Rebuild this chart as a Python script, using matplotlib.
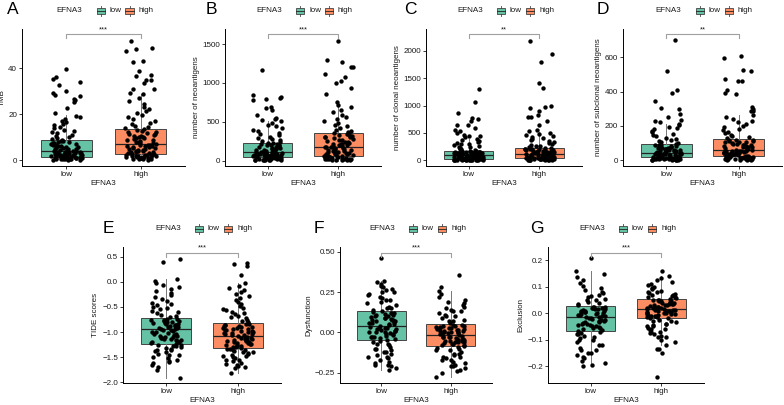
import numpy as np
import matplotlib.pyplot as plt
from matplotlib.patches import Rectangle
from matplotlib.lines import Line2D

plt.rcParams['font.family'] = ['Liberation Sans', 'DejaVu Sans']

W, H = 784, 405
groups = ['low', 'high']
colors = ['#66C2A5', '#FC8D62']
letters = ['A', 'B', 'C', 'D', 'E', 'F', 'G']
ylabels = ['TMB', 'number of neoantigens', 'number of clonal neoantigens',
           'number of subclonal neoantigens', 'TIDE scores', 'Dysfunction', 'Exclusion']
stars = ['***', '***', '**', '**', '***', '***', '***']

# ---- jittered points ----
tmb_low = [0.1, 0.2, 0.2, 0.3, 0.4, 0.4, 0.5, 0.6, 0.6, 0.7, 0.8, 0.8, 0.9, 1.0, 1.0, 1.1, 1.2, 1.2, 1.3, 1.3, 0.3, 0.5, 0.7, 0.9,
           1.5, 1.6, 1.8, 1.9, 2.0, 2.1, 2.3, 2.4, 2.5, 2.6, 2.7, 2.9, 3.0, 3.1, 3.2, 3.4, 3.5, 3.6, 3.7, 3.8, 3.9, 2.2, 1.7, 2.8,
           4.1, 4.4, 4.6, 4.8, 5.0, 5.2, 5.5, 5.6, 5.9, 6.0, 6.2, 6.5, 6.6, 6.9, 7.1, 7.3, 7.6, 7.8, 8.0, 8.2, 8.4, 8.6, 4.3, 5.3,
           9.0, 9.4, 9.9, 10.5, 11.0, 11.6, 12.1, 12.6, 13.1, 13.8, 14.3, 15.1, 15.7, 16.4, 17.1, 17.8, 18.6, 19.3,
           20.6, 22.5, 25.1, 25.9, 26.5, 27.7, 28.4, 29.1, 30.0, 32.6, 34.1, 35.2, 36.0, 39.8]
tmb_high = [0.2, 0.3, 0.4, 0.5, 0.6, 0.7, 0.8, 0.9, 1.0, 1.1, 1.2, 1.3, 1.4, 1.5, 1.6, 1.7, 1.8, 1.9, 2.0, 2.1, 2.2, 2.3, 2.4, 2.5,
            2.7, 2.9, 3.1, 3.3, 3.5, 3.7, 3.9, 4.1, 4.3, 4.5, 4.7, 4.9, 5.1, 5.3, 5.5, 5.7, 5.9, 6.1, 6.3, 6.4, 6.6, 6.7, 3.0, 4.0,
            7.0, 7.3, 7.6, 7.9, 8.2, 8.5, 8.8, 9.1, 9.4, 9.7, 10.0, 10.3, 10.6, 10.9, 11.2, 11.5, 11.8, 12.1, 12.4, 12.7, 13.0, 13.3, 8.0, 9.9,
            13.8, 14.3, 14.9, 15.5, 16.2, 17.0, 17.8, 18.5, 19.4, 20.3, 21.2, 22.1, 23.0, 24.2, 25.5, 26.8, 28.6,
            29.0, 30.8, 31.1, 33.3, 34.8, 35.0, 36.4, 37.0, 38.7, 42.8, 43.2, 47.4, 48.3, 48.8, 51.9]
neo_low = [3, 5, 8, 10, 12, 14, 16, 18, 20, 22, 24, 26, 28, 30, 32, 34, 36, 38, 40, 42, 44, 46, 6, 15,
           50, 53, 56, 60, 63, 66, 70, 73, 76, 80, 83, 86, 90, 93, 96, 100, 103, 106, 58, 68, 78, 88, 98, 52,
           112, 118, 124, 130, 137, 144, 151, 158, 165, 172, 180, 188, 196, 204, 212, 220, 226, 230, 115, 140, 170, 200, 120, 150,
           240, 252, 265, 280, 295, 310, 325, 340, 360, 380, 400, 420, 440, 460, 480, 505,
           520, 532, 545, 590, 650, 680, 690, 780, 790, 800, 820, 840, 1165]
neo_high = [4, 7, 10, 13, 16, 19, 22, 25, 28, 31, 34, 37, 40, 43, 46, 49, 52, 55, 58, 61, 63, 8, 20, 45,
            68, 74, 80, 86, 92, 98, 104, 110, 116, 122, 128, 134, 140, 146, 152, 158, 164, 170, 175, 178, 90, 120, 150, 100,
            185, 193, 201, 210, 220, 230, 240, 250, 260, 270, 280, 290, 300, 310, 320, 330, 340, 350, 355, 200, 245, 300, 215, 330,
            365, 380, 400, 420, 440, 460, 485, 510, 535, 560, 590, 620, 650, 690, 720, 760,
            860, 940, 1000, 1020, 1080, 1120, 1200, 1205, 1270, 1290, 1540]
clonal_low = [2, 3, 4, 5, 6, 7, 8, 9, 10, 11, 12, 13, 14, 15, 16, 17, 18, 19, 20, 21, 22, 23, 5, 12,
              28, 32, 36, 40, 44, 48, 52, 56, 60, 64, 68, 72, 76, 80, 84, 88, 92, 95, 30, 50, 70, 90, 60, 40,
              100, 104, 108, 112, 116, 120, 124, 128, 132, 136, 140, 144, 148, 152, 156, 160, 164, 168, 110, 130, 150, 105, 125, 145,
              178, 188, 198, 210, 222, 235, 248, 262, 276, 290, 305, 320, 335, 350, 370, 388,
              420, 440, 450, 470, 500, 540, 560, 600, 640, 650, 720, 760, 780, 870, 1075, 1300]
clonal_high = [2, 4, 6, 8, 10, 12, 14, 16, 18, 20, 22, 24, 26, 28, 30, 32, 34, 36, 38, 40, 41, 5, 15, 25,
               46, 50, 55, 60, 65, 70, 75, 80, 85, 90, 95, 100, 105, 110, 113, 116, 118, 120, 58, 78, 98, 108, 68, 88,
               125, 131, 137, 143, 150, 157, 164, 171, 178, 185, 192, 199, 206, 213, 220, 226, 229, 130, 160, 190, 210, 140, 175, 200,
               240, 255, 270, 285, 300, 318, 336, 354, 372, 390, 410, 430, 450, 470, 490, 508,
               540, 560, 640, 710, 790, 800, 820, 900, 960, 970, 990, 1320, 1410, 1790, 1950, 2190]
subclonal_low = [1, 2, 3, 4, 5, 6, 7, 8, 9, 10, 11, 12, 13, 14, 15, 16, 2, 4, 6, 8, 10, 12, 14, 16,
                 18, 20, 22, 24, 26, 28, 30, 32, 34, 36, 38, 40, 42, 43, 19, 23, 27, 31, 35, 39, 21, 29, 37, 41,
                 46, 49, 52, 55, 58, 61, 64, 67, 70, 73, 76, 79, 82, 85, 88, 91, 94, 50, 60, 70, 80, 90, 56, 66,
                 100, 106, 112, 118, 125, 132, 140, 148, 156, 164, 172, 180, 188, 196, 204, 210,
                 225, 230, 235, 250, 270, 300, 305, 345, 390, 410, 520, 700]
subclonal_high = [1, 2, 3, 4, 5, 6, 7, 8, 9, 10, 11, 12, 13, 14, 15, 16, 17, 18, 19, 20, 21, 22, 5, 12,
                  25, 28, 31, 34, 37, 40, 43, 46, 49, 52, 55, 57, 59, 26, 32, 38, 44, 50, 56, 29, 35, 41, 47, 53,
                  62, 65, 68, 71, 74, 77, 80, 83, 86, 89, 92, 95, 98, 101, 104, 107, 110, 113, 116, 119, 121, 75, 90, 105,
                  128, 135, 142, 150, 158, 166, 175, 184, 193, 202, 212, 222, 232, 242, 254, 265,
                  285, 290, 300, 310, 385, 390, 410, 460, 465, 475, 520, 525, 595, 605]
tide_low = [-1.91, -1.75, -1.70, -1.66, -1.62, -1.58, -1.55, -1.52, -1.49, -1.46, -1.43, -1.40, -1.38, -1.36, -1.34, -1.32, -1.30, -1.28, -1.27, -1.26, -1.25, -1.60, -1.45, -1.35,
            -1.23, -1.21, -1.19, -1.17, -1.15, -1.13, -1.11, -1.09, -1.07, -1.05, -1.03, -1.01, -0.99, -0.97, -0.95, -1.20, -1.16, -1.12, -1.08, -1.04, -1.00, -0.96, -1.10, -1.14,
            -0.93, -0.91, -0.89, -0.87, -0.85, -0.83, -0.81, -0.79, -0.77, -0.75, -0.73, -0.92, -0.88, -0.84, -0.80, -0.76, -0.90, -0.86, -0.82, -0.78, -0.74, -0.94,
            -0.70, -0.66, -0.62, -0.58, -0.54, -0.50, -0.46, -0.42, -0.38, -0.34, -0.30, -0.26, -0.22, -0.18, -0.14, -0.10, -0.06, -0.02, 0.02, 0.05, -0.68, -0.60, -0.52, -0.44,
            0.40, 0.45]
tide_high = [-1.81, -1.72, -1.68, -1.64, -1.61, -1.58, -1.55, -1.52, -1.50, -1.48, -1.46, -1.44, -1.42, -1.40, -1.38, -1.36, -1.34, -1.33, -1.70, -1.56, -1.47, -1.39, -1.35, -1.65,
             -1.31, -1.29, -1.27, -1.25, -1.23, -1.21, -1.19, -1.17, -1.15, -1.13, -1.11, -1.09, -1.30, -1.26, -1.22, -1.18, -1.14, -1.10, -1.28, -1.24, -1.20, -1.16, -1.12, -1.08,
             -1.06, -1.04, -1.02, -1.00, -0.98, -0.96, -0.94, -0.92, -0.90, -0.88, -0.86, -0.84, -0.83, -1.05, -1.01, -0.97, -0.93, -0.89, -0.85, -1.03, -0.99, -0.95, -0.91, -0.87,
             -0.80, -0.76, -0.72, -0.68, -0.64, -0.60, -0.56, -0.52, -0.48, -0.44, -0.40, -0.36, -0.32, -0.28, -0.24, -0.20, -0.16, -0.12, -0.08, -0.03, -0.78, -0.70, -0.62, -0.54,
             0.14, 0.31, 0.35, 0.38]
dys_low = [-0.23, -0.22, -0.21, -0.20, -0.19, -0.18, -0.17, -0.16, -0.15, -0.14, -0.13, -0.12, -0.11, -0.10, -0.09, -0.08, -0.07, -0.06, -0.05, -0.20, -0.15, -0.10, -0.07, -0.12,
           -0.045, -0.04, -0.035, -0.03, -0.025, -0.02, -0.015, -0.01, -0.005, 0.0, 0.005, 0.01, 0.015, 0.02, 0.025, 0.03, 0.035, 0.04, -0.03, -0.01, 0.01, 0.03, 0.0, 0.02,
           0.045, 0.05, 0.055, 0.06, 0.065, 0.07, 0.075, 0.08, 0.085, 0.09, 0.095, 0.10, 0.105, 0.11, 0.115, 0.12, 0.125, 0.13, 0.06, 0.08, 0.10, 0.12, 0.07, 0.09,
           0.14, 0.15, 0.16, 0.17, 0.18, 0.19, 0.20, 0.21, 0.22, 0.23, 0.24, 0.25, 0.26, 0.27, 0.28, 0.29, 0.30, 0.31, 0.32, 0.15, 0.20, 0.25,
           0.46]
dys_high = [-0.277, -0.25, -0.24, -0.23, -0.22, -0.21, -0.20, -0.19, -0.18, -0.17, -0.16, -0.15, -0.14, -0.13, -0.12, -0.11, -0.10, -0.09, -0.21, -0.17, -0.13, -0.11, -0.095, -0.15,
            -0.08, -0.075, -0.07, -0.065, -0.06, -0.055, -0.05, -0.045, -0.04, -0.035, -0.03, -0.025, -0.02, -0.07, -0.05, -0.03, -0.06, -0.04, -0.085, -0.018, -0.058, -0.038, -0.028, -0.048,
            -0.01, -0.005, 0.0, 0.005, 0.01, 0.015, 0.02, 0.025, 0.03, 0.035, 0.04, 0.045, 0.048, 0.0, 0.02, 0.04, -0.012, 0.008, 0.028, 0.012, 0.032, 0.018, -0.002, 0.042,
            0.06, 0.07, 0.08, 0.09, 0.10, 0.11, 0.12, 0.13, 0.14, 0.15, 0.16, 0.17, 0.18, 0.19, 0.20, 0.22, 0.24, 0.257, 0.07, 0.10, 0.13,
            0.28, 0.354]
exc_low = [-0.20, -0.195, -0.19, -0.18, -0.17, -0.165, -0.16, -0.15, -0.14, -0.13, -0.12, -0.11, -0.10, -0.095, -0.09, -0.085, -0.08, -0.075, -0.07, -0.15, -0.12, -0.10, -0.08, -0.14,
           -0.066, -0.062, -0.058, -0.054, -0.05, -0.046, -0.042, -0.038, -0.034, -0.03, -0.026, -0.022, -0.018, -0.014, -0.06, -0.045, -0.035, -0.025, -0.055, -0.04, -0.02, -0.05, -0.03, -0.016,
           -0.011, -0.008, -0.005, -0.002, 0.0, 0.003, 0.006, 0.009, 0.012, 0.015, 0.018, 0.021, 0.024, -0.006, 0.004, 0.014, 0.022, -0.01, 0.0, 0.01, 0.02, 0.008, 0.016, 0.025,
           0.03, 0.036, 0.042, 0.048, 0.055, 0.062, 0.07, 0.078, 0.086, 0.095, 0.104, 0.114, 0.124, 0.136, 0.148, 0.16, 0.04, 0.05, 0.065, 0.08,
           0.207]
exc_high = [-0.122, -0.11, -0.10, -0.09, -0.085, -0.08, -0.075, -0.07, -0.065, -0.06, -0.055, -0.05, -0.045, -0.04, -0.035, -0.03, -0.025, -0.02, -0.07, -0.05, -0.04, -0.03, -0.06, -0.09,
            -0.017, -0.014, -0.011, -0.008, -0.005, -0.002, 0.001, 0.004, 0.007, 0.01, 0.013, 0.015, -0.015, -0.01, -0.004, 0.002, 0.008, 0.012, -0.012, -0.006, 0.0, 0.006, 0.011, 0.014,
            0.018, 0.021, 0.024, 0.027, 0.03, 0.033, 0.036, 0.039, 0.042, 0.045, 0.048, 0.051, 0.02, 0.025, 0.03, 0.035, 0.04, 0.045, 0.05, 0.022, 0.032, 0.038, 0.046, 0.052,
            0.056, 0.06, 0.064, 0.068, 0.072, 0.076, 0.08, 0.085, 0.09, 0.095, 0.10, 0.105, 0.11, 0.117, 0.124, 0.131, 0.139, 0.06, 0.07, 0.08,
            -0.135, -0.137, -0.149, -0.241, 0.16]

# ---- box stats: whislo, q1, median, q3, whishi ----
tmb_box = [[0, 1.4, 4.0, 8.7, 19.5], [0, 2.6, 6.8, 13.5, 28.6]]
neo_box = [[0, 48, 108, 231, 505], [0, 64, 180, 356, 760]]
clonal_box = [[0, 24, 97, 170, 390], [0, 42, 121, 230, 510]]
subclonal_box = [[0, 17, 44, 95, 210], [0, 23, 60, 122, 265]]
tide_box = [[-1.91, -1.24, -0.94, -0.72, 0.05], [-1.81, -1.32, -1.08, -0.82, -0.03]]
dys_box = [[-0.23, -0.047, 0.041, 0.13, 0.32], [-0.277, -0.086, -0.016, 0.05, 0.257]]
exc_box = [[-0.20, -0.068, -0.013, 0.026, 0.16], [-0.122, -0.019, 0.016, 0.053, 0.139]]

points = [(tmb_low, tmb_high), (neo_low, neo_high), (clonal_low, clonal_high),
          (subclonal_low, subclonal_high), (tide_low, tide_high), (dys_low, dys_high), (exc_low, exc_high)]
boxes = [tmb_box, neo_box, clonal_box, subclonal_box, tide_box, dys_box, exc_box]

# layout (pixels: left, top, width, height)
rects = [(22, 29, 163, 137), (225, 29, 156, 137), (426, 29, 156, 137), (623, 29, 159, 137),
         (123, 247, 158, 136), (340, 247, 152, 136), (548, 247, 156, 136)]
letter_x = [7, 206, 404, 597, 103, 314, 530]
ylims = [(-2.6, 57), (-68, 1693), (-104, 2402), (-33, 765), (-2.01, 0.69), (-0.312, 0.528), (-0.264, 0.25)]
yticks = [[0, 20, 40], [0, 500, 1000, 1500], [0, 500, 1000, 1500, 2000], [0, 200, 400, 600],
          [-2.0, -1.5, -1.0, -0.5, 0.0, 0.5], [-0.25, 0.0, 0.25, 0.5], [-0.2, -0.1, 0.0, 0.1, 0.2]]
yfmt = ['{:.0f}', '{:.0f}', '{:.0f}', '{:.0f}', '{:.1f}', '{:.2f}', '{:.1f}']
bracket_y = [54.8, 1625, 2305, 735, 0.58, 0.494, 0.229]

FS = 5.8
TXT = '#1a1a1a'
EDGE = '#444444'

fig = plt.figure(figsize=(W / 100, H / 100), dpi=100)


def fx(x):
    return x / W


def fy(y):
    return 1 - y / H


def spread(n, seed):
    # deterministic horizontal jitter in [-0.5, 0.5)
    t = np.sin((np.arange(n) + 1.0) * 12.9898 + seed * 78.233) * 43758.5453
    return t - np.floor(t) - 0.5


def draw_key(x, y, color):
    # small boxplot glyph, pixel coords (x left, y centre)
    fig.patches.append(Rectangle((fx(x), fy(y + 3)), 8 / W, 6 / H, transform=fig.transFigure,
                                 facecolor=color, edgecolor=EDGE, linewidth=0.6))
    fig.lines.append(Line2D([fx(x), fx(x + 8)], [fy(y), fy(y)], transform=fig.transFigure,
                            color='#222222', linewidth=0.6))
    fig.lines.append(Line2D([fx(x + 4), fx(x + 4)], [fy(y - 3), fy(y - 5)], transform=fig.transFigure,
                            color=EDGE, linewidth=0.6))
    fig.lines.append(Line2D([fx(x + 4), fx(x + 4)], [fy(y + 3), fy(y + 5)], transform=fig.transFigure,
                            color=EDGE, linewidth=0.6))


for i in range(7):
    l, t, w, h = rects[i]
    ax = fig.add_axes([fx(l), fy(t + h), w / W, h / H])
    pos = [1, 2]
    stats = []
    for b in boxes[i]:
        stats.append({'whislo': b[0], 'q1': b[1], 'med': b[2], 'q3': b[3], 'whishi': b[4], 'fliers': []})
    bp = ax.bxp(stats, positions=pos, widths=0.7, patch_artist=True, showfliers=False, showcaps=False,
                boxprops=dict(edgecolor=EDGE, linewidth=0.7),
                medianprops=dict(color='#222222', linewidth=0.9),
                whiskerprops=dict(color='#777777', linewidth=0.7))
    for patch, c in zip(bp['boxes'], colors):
        patch.set_facecolor(c)
    for k in range(2):
        vals = np.array(points[i][k], dtype=float)
        jit = spread(len(vals), i * 2 + k) * 0.42
        ax.scatter(pos[k] + jit, vals, s=10, color='black', linewidths=0, zorder=3)

    ax.set_xlim(0.4, 2.6)
    ax.set_ylim(*ylims[i])
    ax.set_xticks(pos)
    ax.set_xticklabels(groups)
    ax.set_yticks(yticks[i])
    ax.set_yticklabels([yfmt[i].format(v).replace('-', '\u2212') for v in yticks[i]])
    ax.tick_params(labelsize=FS, colors=TXT, length=2, width=0.6, pad=1.5)
    for s in ['top', 'right']:
        ax.spines[s].set_visible(False)
    for s in ['left', 'bottom']:
        ax.spines[s].set_linewidth(0.7)
    ax.set_xlabel('EFNA3', fontsize=FS, color=TXT, labelpad=1.5)
    ax.set_ylabel(ylabels[i], fontsize=FS, color=TXT, labelpad=2)

    # significance bracket
    yb = bracket_y[i]
    dy = 0.03 * (ylims[i][1] - ylims[i][0])
    ax.plot([1, 1, 2, 2], [yb - dy, yb, yb, yb - dy], color='#a0a0a0', linewidth=0.8, clip_on=False, zorder=4)
    ax.annotate(stars[i], (1.5, yb), xytext=(0, 0.5), textcoords='offset points', ha='center', va='bottom',
                fontsize=FS - 0.5, color=TXT, annotation_clip=False)

    # panel letter and legend
    row_y = 10 if i < 4 else 228
    fig.text(fx(letter_x[i]), fy(row_y), letters[i], fontsize=12.5, ha='left', va='center', color='black')
    cx = l + w / 2
    fig.text(fx(cx - 47), fy(row_y + 1), 'EFNA3', fontsize=FS, ha='left', va='center', color=TXT)
    draw_key(cx - 7, row_y + 1, colors[0])
    fig.text(fx(cx + 6), fy(row_y + 1), 'low', fontsize=FS, ha='left', va='center', color=TXT)
    draw_key(cx + 22, row_y + 1, colors[1])
    fig.text(fx(cx + 35), fy(row_y + 1), 'high', fontsize=FS, ha='left', va='center', color=TXT)

fig.savefig('out.png', dpi=100)
